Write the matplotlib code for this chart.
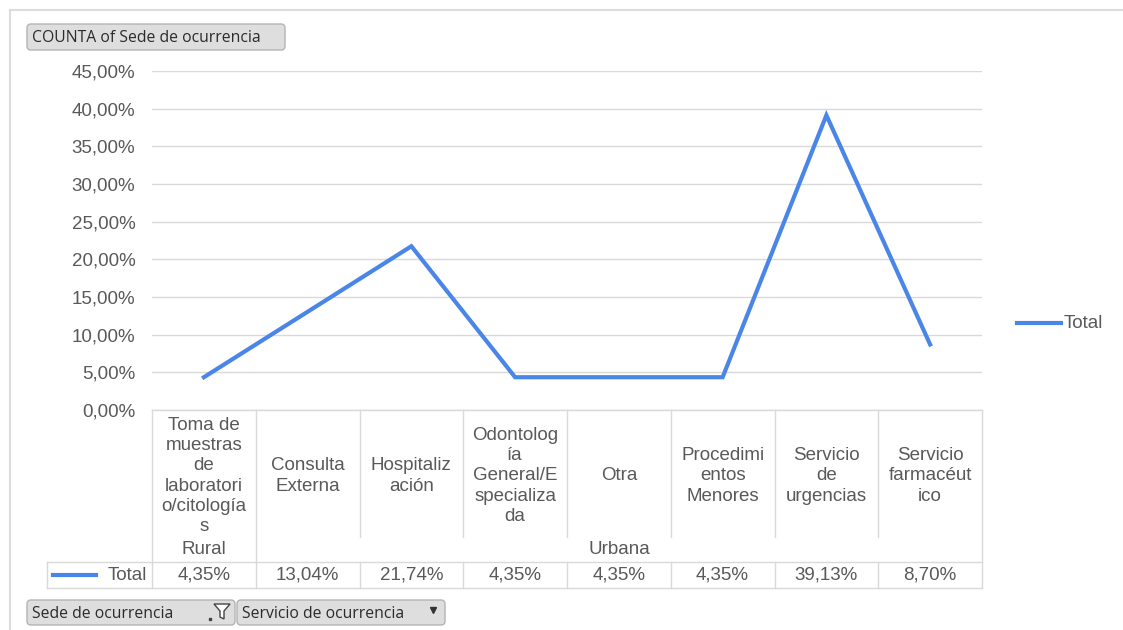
import matplotlib.pyplot as plt
import numpy as np
from matplotlib.patches import FancyBboxPatch, Polygon

# datos
etiquetas = ["Toma de\nmuestras\nde\nlaboratori\no/citología\ns",
             "Consulta\nExterna",
             "Hospitaliz\nación",
             "Odontolog\nía\nGeneral/E\nspecializa\nda",
             "Otra",
             "Procedimi\nentos\nMenores",
             "Servicio\nde\nurgencias",
             "Servicio\nfarmacéut\nico"]
sedes = ["Rural", "Urbana"]
sede_n = [1, 7]   # cuantas categorias bajo cada sede
total = [4.35, 13.04, 21.74, 4.35, 4.35, 4.35, 39.13, 8.70]
yticks = [0, 5, 10, 15, 20, 25, 30, 35, 40, 45]

azul = "#4a86e8"
gris_txt = "#595959"
gris_lin = "#d9d9d9"
fuente = "Liberation Sans"
tam = 13.5


def pct(v):
    return f"{v:.2f}%".replace(".", ",")


W, H = 1123, 630
fig = plt.figure(figsize=(W / 100, H / 100), dpi=100)

# capa de fondo en pixeles para tabla, botones y marco
bg = fig.add_axes([0, 0, 1, 1])
bg.set_xlim(0, W)
bg.set_ylim(H, 0)
bg.axis("off")

x0, x1 = 152, 982
y_top, y_cero = 71, 410
ax = fig.add_axes([x0 / W, 1 - y_cero / H, (x1 - x0) / W, (y_cero - y_top) / H])
n = len(total)
xs = np.arange(n)
ax.plot(xs, total, color=azul, lw=3, solid_joinstyle="miter", zorder=3)
ax.set_xlim(-0.5, n - 0.5)
ax.set_ylim(0, 45)
ax.set_yticks(yticks)
ax.yaxis.grid(True, color=gris_lin, lw=1)
ax.set_axisbelow(True)
ax.tick_params(axis="y", length=0, pad=12, labelsize=tam, labelcolor=gris_txt)
ax.set_yticklabels([pct(v) for v in yticks], fontfamily=fuente)
ax.set_xticks([])
for s in ax.spines.values():
    s.set_visible(False)
ax.patch.set_alpha(0)

# marco exterior
bg.plot([10, W], [10, 10], color="#dcdcdc", lw=1.5)
bg.plot([10, 10], [10, H], color="#dcdcdc", lw=1.5)

# tabla de datos
ancho = (x1 - x0) / n
bordes = [x0 + i * ancho for i in range(n + 1)]
y_cat, y_sede, y_fila, y_fin = 410, 537, 562, 588
bg.plot([x0, x1], [y_cat, y_cat], color=gris_lin, lw=1)
bg.plot([47, x1], [y_fila, y_fila], color=gris_lin, lw=1)
bg.plot([47, x1], [y_fin, y_fin], color=gris_lin, lw=1)
bg.plot([47, 47], [y_fila, y_fin], color=gris_lin, lw=1)
limites_sede = np.cumsum([0] + sede_n)
for i, b in enumerate(bordes):
    if i in limites_sede:
        bg.plot([b, b], [y_cat, y_fin], color=gris_lin, lw=1)
    else:
        bg.plot([b, b], [y_cat, y_sede], color=gris_lin, lw=1)
        bg.plot([b, b], [y_fila, y_fin], color=gris_lin, lw=1)

for i, (et, v) in enumerate(zip(etiquetas, total)):
    cx = (bordes[i] + bordes[i + 1]) / 2
    bg.text(cx, 476, et, ha="center", va="center", fontsize=tam, color=gris_txt,
            family=fuente, linespacing=1.24)
    bg.text(cx, 575, pct(v), ha="center", va="center",
            fontsize=tam, color=gris_txt, family=fuente)

for j, sede in enumerate(sedes):
    a, b = limites_sede[j], limites_sede[j + 1]
    cx = (bordes[a] + bordes[b]) / 2
    bg.text(cx, 549, sede, ha="center", va="center", fontsize=tam,
            color=gris_txt, family=fuente)

bg.plot([53, 96], [575, 575], color=azul, lw=3)
bg.text(147, 575, "Total", ha="right", va="center", fontsize=tam,
        color=gris_txt, family=fuente)

# leyenda
bg.plot([1017, 1061], [323, 323], color=azul, lw=3)
bg.text(1064, 323, "Total", ha="left", va="center", fontsize=tam,
        color=gris_txt, family=fuente)


def boton(x, y, w, h, texto):
    p = FancyBboxPatch((x, y), w, h, boxstyle="round,pad=0,rounding_size=4",
                       facecolor="#dedede", edgecolor="#b4b4b4", lw=1)
    bg.add_patch(p)
    bg.text(x + 5, y + h / 2 + 1, texto, ha="left", va="center", fontsize=11.3,
            color="#2b2b2b", family="Open Sans")


boton(27, 24, 258, 26, "COUNTA of Sede de ocurrencia")
boton(27, 600, 208, 25, "Sede de ocurrencia")
boton(237, 600, 208, 25, "Servicio de ocurrencia")

# icono de filtro y flecha
bg.add_patch(Polygon([[214, 604], [230, 604], [224, 611], [224, 619], [220, 617], [220, 611]],
                     closed=True, facecolor="#ffffff", edgecolor="#444444", lw=1))
bg.plot([210], [619], marker="s", ms=1.5, color="#444444")
bg.plot([433], [610], marker="v", ms=5, color="#333333")

fig.savefig("out.png", dpi=100)
